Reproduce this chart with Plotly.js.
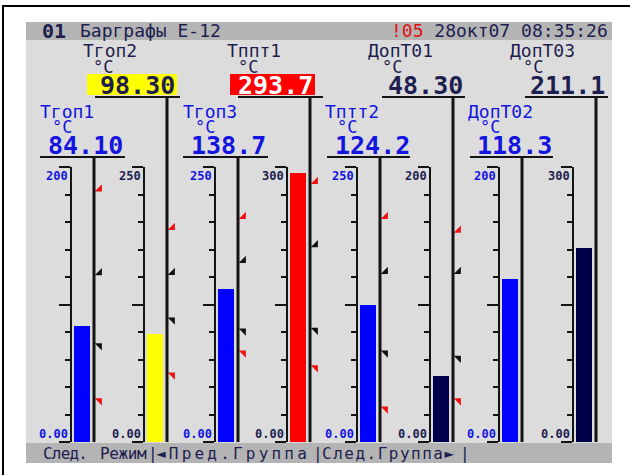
<!DOCTYPE html>
<html>
<head>
<meta charset="utf-8">
<script src="https://cdn.plot.ly/plotly-3.0.1.min.js"></script>
<style>
  html, body { margin: 0; padding: 0; background: #ffffff; }
  #chart { width: 630px; height: 475px; }
</style>
</head>
<body>
<div id="chart"></div>
<script>
// ---- Channel data ----
const channels   = ['Тгоп1', 'Тгоп2', 'Тгоп3', 'Тппт1', 'Тптт2', 'ДопТ01', 'ДопТ02', 'ДопТ03'];
const units      = ['°C', '°C', '°C', '°C', '°C', '°C', '°C', '°C'];
const values     = [84.10, 98.30, 138.7, 293.7, 124.2, 48.30, 118.3, 211.1];
const scaleMin   = [0, 0, 0, 0, 0, 0, 0, 0];
const scaleMax   = [200, 250, 250, 300, 250, 200, 200, 300];
const alarmState = ['normal', 'warning', 'normal', 'alarm', 'normal', 'normal', 'normal', 'normal'];
// setpoints: upper pair [HH, H], lower pair [L, LL]
const setHigh    = [[184, 123], [195, 154], [205, 165], [284, 215], [205, 155], [154, 124], [], []];
const setLow     = [[70, 30], [111, 61], [101, 81], [122, 81], [81, 30], [61, 30], [], []];

const groupNo    = '01';
const groupTitle = 'Барграфы E-12';
const alarmCount = '!05';
const dateText   = '28окт07';
const timeText   = '08:35:26';
const softKeys   = ['След.', 'Режим', '◄Пред.Группа', 'След.Группа►'];

// ---- Screen geometry (pixels) ----
const W = 630, H = 475;
const px = x => x / W;
const py = y => 1 - y / H;

const BAR_TOP = 167, BAR_BOTTOM = 442;
const axisX = [71, 144, 215, 287, 357, 430, 499, 573];      // scale line of each bargraph
const ROWS = {
  front: { nameY: 111, unitY: 127, valY: 145, ulY: 157 },
  back:  { nameY: 51,  unitY: 67,  valY: 85,  ulY: 97 }
};
const rowOf = ['front', 'back', 'front', 'back', 'front', 'back', 'front', 'back'];
const hdr = [
  { name: 40,  unit: 52,  valR: 123, ul: [40, 125] },
  { name: 83,  unit: 93,  valR: 175, ul: [95, 180],  box: [87, 177] },
  { name: 183, unit: 195, valR: 266, ul: [183, 268] },
  { name: 227, unit: 238, valR: 313, ul: [238, 323], box: [230, 315] },
  { name: 325, unit: 337, valR: 410, ul: [327, 410] },
  { name: 368, unit: 382, valR: 463, ul: [382, 465], box: [375, 465] },
  { name: 468, unit: 480, valR: 552, ul: [470, 553] },
  { name: 510, unit: 523, valR: 605, ul: [525, 608], box: [517, 607] }
];

const FONT = 'DejaVu Sans Mono, monospace';
const NAVY = '#1e1e50';
const BLUE = '#1414e0';
const INK  = '#141414';
const barColors  = { front: '#0000ff', back: '#00004a' };
const stateFill  = { warning: '#ffff00', alarm: '#ff0000' };
const stateText  = { warning: NAVY, alarm: '#ffffff' };

// ---- Layout ----
const layout = {
  width: W, height: H,
  margin: { l: 0, r: 0, t: 0, b: 0 },
  paper_bgcolor: '#ffffff',
  plot_bgcolor: 'rgba(0,0,0,0)',
  showlegend: false,
  bargap: 0,
  hovermode: false,
  shapes: [],
  annotations: []
};

// screen background, title bar and soft-key bar
layout.shapes.push(
  { type: 'rect', xref: 'paper', yref: 'paper', x0: px(26), x1: px(612), y0: py(22), y1: py(463),
    fillcolor: '#dcdcdc', line: { width: 0 }, layer: 'below' },
  { type: 'rect', xref: 'paper', yref: 'paper', x0: px(26), x1: px(612), y0: py(22), y1: py(40),
    fillcolor: '#b4b4b4', line: { width: 0 }, layer: 'below' },
  { type: 'rect', xref: 'paper', yref: 'paper', x0: px(26), x1: px(612), y0: py(443), y1: py(463),
    fillcolor: '#b4b4b4', line: { width: 0 }, layer: 'below' },
  { type: 'rect', xref: 'paper', yref: 'paper', x0: px(3), x1: px(640), y0: py(6), y1: py(490),
    fillcolor: 'rgba(0,0,0,0)', line: { color: '#000000', width: 2 }, layer: 'below' }
);

function ann(o) {
  layout.annotations.push(Object.assign({
    showarrow: false, xref: 'paper', yref: 'paper', borderpad: 0, borderwidth: 0
  }, o));
}

// title bar
ann({ x: px(42), y: py(31), xanchor: 'left', yanchor: 'middle', text: '<b>' + groupNo + '</b>',
      font: { family: FONT, size: 20, color: NAVY } });
ann({ x: px(80), y: py(31), xanchor: 'left', yanchor: 'middle', text: groupTitle,
      font: { family: FONT, size: 18, color: NAVY } });
ann({ x: px(608), y: py(31), xanchor: 'right', yanchor: 'middle',
      text: '<span style="color:#e01010">' + alarmCount + '</span> ' + dateText + ' ' + timeText,
      font: { family: FONT, size: 18, color: NAVY } });

// soft keys
const keyPos = [43, 100, 156, 322];
const keySpacing = [-0.8, -0.4, 3.2, 1.5];
softKeys.forEach((k, j) => {
  ann({ x: px(keyPos[j]), y: py(453), xanchor: 'left', yanchor: 'middle',
        text: '<span style="letter-spacing:' + keySpacing[j] + 'px">' + k + '</span>',
        font: { family: FONT, size: 16, color: NAVY } });
});
[153, 318, 465].forEach(x => {
  ann({ x: px(x), y: py(453), xanchor: 'center', yanchor: 'middle', text: '|',
        font: { family: FONT, size: 16, color: NAVY } });
});

const data = [];

channels.forEach((name, i) => {
  const sfx = i === 0 ? '' : String(i + 1);
  const xa = 'x' + sfx, ya = 'y' + sfx;
  const row = ROWS[rowOf[i]];
  const h = hdr[i];
  const A = axisX[i];
  const textCol = rowOf[i] === 'front' ? BLUE : NAVY;

  layout['xaxis' + sfx] = {
    domain: [px(A), px(A + 30)], range: [0, 30], visible: false,
    anchor: ya, fixedrange: true
  };
  layout['yaxis' + sfx] = {
    domain: [py(BAR_BOTTOM), py(BAR_TOP)], range: [scaleMin[i], scaleMax[i]],
    anchor: 'free', position: px(A), side: 'left',
    showgrid: false, zeroline: false, showticklabels: false,
    showline: true, linecolor: INK, linewidth: 2,
    ticks: 'outside', ticklen: 11, tickwidth: 2, tickcolor: INK,
    tick0: scaleMin[i], dtick: (scaleMax[i] - scaleMin[i]) / 2,
    minor: { ticks: 'outside', dtick: (scaleMax[i] - scaleMin[i]) / 10, ticklen: 5, tickwidth: 2, tickcolor: INK },
    fixedrange: true
  };

  // bargraph
  const barCol = alarmState[i] === 'normal' ? barColors[rowOf[i]] : stateFill[alarmState[i]];
  data.push({
    type: 'bar', xaxis: xa, yaxis: ya,
    x: [11], y: [values[i]], width: [16], base: scaleMin[i],
    marker: { color: barCol, line: { width: 0 } },
    hoverinfo: 'skip'
  });

  // setpoint markers on the channel's pointer line
  const spY = setHigh[i].concat(setLow[i]);
  if (spY.length) {
    data.push({
      type: 'scatter', mode: 'markers', xaxis: xa, yaxis: ya, cliponaxis: false,
      x: spY.map(() => 28.5), y: spY,
      marker: {
        size: 8,
        symbol: setHigh[i].map(() => 'triangle-se').concat(setLow[i].map(() => 'triangle-ne')),
        color: setHigh[i].map((v, j) => j === 0 ? '#ee1010' : '#101010')
                 .concat(setLow[i].map((v, j) => j === setLow[i].length - 1 ? '#ee1010' : '#101010')),
        line: { width: 0 }
      },
      hoverinfo: 'skip'
    });
  }

  // pointer line from the header down to the base
  layout.shapes.push({
    type: 'line', xref: xa, yref: 'paper', x0: 23, x1: 23, y0: py(row.ulY), y1: py(BAR_BOTTOM),
    line: { color: INK, width: 3 }
  });
  // value underline
  layout.shapes.push({
    type: 'line', xref: 'paper', yref: 'paper', x0: px(h.ul[0]), x1: px(h.ul[1]), y0: py(row.ulY), y1: py(row.ulY),
    line: { color: INK, width: 2 }
  });
  // highlighted value field for channels in warning / alarm
  if (alarmState[i] !== 'normal' && h.box) {
    layout.shapes.push({
      type: 'rect', xref: 'paper', yref: 'paper',
      x0: px(h.box[0]), x1: px(h.box[1]), y0: py(row.valY + 10), y1: py(row.valY - 11),
      fillcolor: stateFill[alarmState[i]], line: { width: 0 }, layer: 'below'
    });
  }

  // header texts
  ann({ x: px(h.name), y: py(row.nameY), xanchor: 'left', yanchor: 'middle', text: name,
        font: { family: FONT, size: 18, color: textCol } });
  ann({ x: px(h.unit), y: py(row.unitY), xanchor: 'left', yanchor: 'middle', text: units[i],
        font: { family: FONT, size: 17, color: textCol } });
  const valCol = alarmState[i] === 'normal' ? textCol : stateText[alarmState[i]];
  ann({ x: px(h.valR), y: py(row.valY), xanchor: 'right', yanchor: 'middle',
        text: '<b>' + values[i].toPrecision(4) + '</b>',
        font: { family: FONT, size: 25, color: valCol } });

  // scale end labels
  ann({ x: px(A - 3), xanchor: 'right', yref: ya, y: scaleMax[i], yanchor: 'top', yshift: -2,
        text: '<b>' + String(scaleMax[i]) + '</b>', font: { family: FONT, size: 12, color: textCol } });
  ann({ x: px(A - 3), xanchor: 'right', yref: ya, y: scaleMin[i], yanchor: 'bottom', yshift: 1,
        text: '<b>' + scaleMin[i].toFixed(2) + '</b>', font: { family: FONT, size: 12, color: textCol } });
});

Plotly.newPlot('chart', data, layout, { staticPlot: true, displayModeBar: false });
</script>
</body>
</html>
